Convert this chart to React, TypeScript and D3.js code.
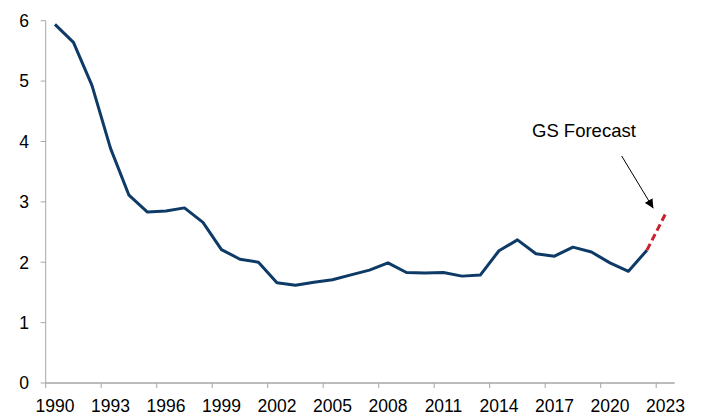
import React, { useEffect, useRef } from "react";
import * as d3 from "d3";

const years = d3.range(1990, 2024);
const actual = [
  5.94, 5.64, 4.93, 3.89, 3.11, 2.83, 2.85, 2.9, 2.66, 2.21,
  2.05, 2.0, 1.66, 1.62, 1.67, 1.71, 1.79, 1.87, 1.99, 1.83,
  1.82, 1.83, 1.77, 1.79, 2.19, 2.37, 2.14, 2.1, 2.25, 2.17,
  1.99, 1.85, 2.2,
];
const forecastYears = [2022, 2023];
const forecast = [2.2, 2.8];
const yTicks = [0, 1, 2, 3, 4, 5, 6];
const labelYears = [1990, 1993, 1996, 1999, 2002, 2005, 2008, 2011, 2014, 2017, 2020, 2023];
const annotation = "GS Forecast";

export default function App() {
  const ref = useRef<SVGSVGElement>(null);

  useEffect(() => {
    const width = 702;
    const height = 419;
    const left = 45.7;
    const right = 674.7;
    const top = 20.7;
    const bottom = 383;
    const font = "'Liberation Sans', Arial, sans-serif";
    const axisColor = "#a6a6a6";

    const svg = d3.select(ref.current)
      .attr("width", width)
      .attr("height", height);
    svg.selectAll("*").remove();

    const x = d3.scaleBand<number>()
      .domain(years)
      .range([left, right])
      .padding(0);
    const xc = (yr: number) => (x(yr) as number) + x.bandwidth() / 2;

    const y = d3.scaleLinear()
      .domain([0, 6])
      .range([bottom, top]);

    // y axis
    svg.append("line")
      .attr("x1", left).attr("x2", left)
      .attr("y1", top).attr("y2", bottom)
      .attr("stroke", axisColor).attr("stroke-width", 1);
    svg.append("g").selectAll("line").data(yTicks).join("line")
      .attr("x1", left - 5).attr("x2", left)
      .attr("y1", d => y(d)).attr("y2", d => y(d))
      .attr("stroke", axisColor);
    svg.append("g").selectAll("text").data(yTicks).join("text")
      .attr("x", 29)
      .attr("y", d => y(d))
      .attr("dy", "0.36em")
      .attr("text-anchor", "end")
      .attr("font-family", font)
      .attr("font-size", 17.5)
      .attr("fill", "#000")
      .text(d => d);

    // x axis
    svg.append("line")
      .attr("x1", left).attr("x2", right)
      .attr("y1", bottom).attr("y2", bottom)
      .attr("stroke", axisColor).attr("stroke-width", 1.5);
    svg.append("g").selectAll("line").data(labelYears).join("line")
      .attr("x1", d => x(d) as number).attr("x2", d => x(d) as number)
      .attr("y1", bottom).attr("y2", bottom + 5)
      .attr("stroke", axisColor);
    svg.append("g").selectAll("text").data(labelYears).join("text")
      .attr("x", d => xc(d))
      .attr("y", 411.5)
      .attr("text-anchor", "middle")
      .attr("font-family", font)
      .attr("font-size", 17.5)
      .attr("fill", "#000")
      .text(d => d);

    const line = d3.line<[number, number]>()
      .x(d => xc(d[0]))
      .y(d => y(d[1]));

    svg.append("path")
      .datum(actual.map((v, i) => [years[i], v] as [number, number]))
      .attr("d", line)
      .attr("fill", "none")
      .attr("stroke", "#0d3a66")
      .attr("stroke-width", 3)
      .attr("stroke-linejoin", "round");

    svg.append("path")
      .datum(forecast.map((v, i) => [forecastYears[i], v] as [number, number]))
      .attr("d", line)
      .attr("fill", "none")
      .attr("stroke", "#c8202e")
      .attr("stroke-width", 3)
      .attr("stroke-dasharray", "7,4");

    // annotation
    svg.append("text")
      .attr("x", 532)
      .attr("y", 136.5)
      .attr("font-family", font)
      .attr("font-size", 18.5)
      .attr("fill", "#000")
      .text(annotation);

    svg.append("defs").append("marker")
      .attr("id", "arrow")
      .attr("viewBox", "0 0 10 10")
      .attr("refX", 10).attr("refY", 5)
      .attr("markerWidth", 9).attr("markerHeight", 9)
      .attr("markerUnits", "userSpaceOnUse")
      .attr("orient", "auto")
      .append("path")
      .attr("d", "M0,0 L10,5 L0,10 Z")
      .attr("fill", "#000");

    svg.append("line")
      .attr("x1", 621.7).attr("y1", 156)
      .attr("x2", 653.3).attr("y2", 208.3)
      .attr("stroke", "#000")
      .attr("stroke-width", 1)
      .attr("marker-end", "url(#arrow)");
  }, []);

  return (
    <svg ref={ref} style={{ position: "absolute", left: 0, top: 0, background: "#fff" }} />
  );
}
